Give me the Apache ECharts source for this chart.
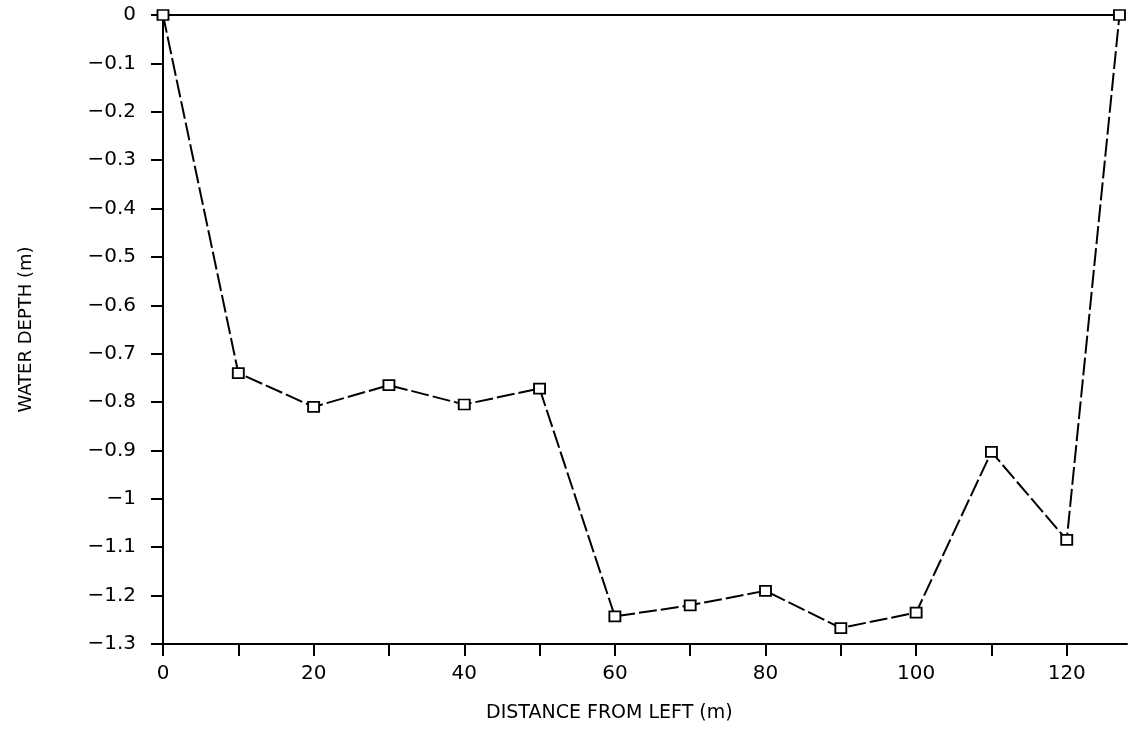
<!DOCTYPE html>
<html>
<head>
<meta charset="utf-8">
<script src="https://cdn.jsdelivr.net/npm/echarts@6/dist/echarts.min.js"></script>
<style>
html,body{margin:0;padding:0;background:#fff;}
#chart{width:1134px;height:733px;}
</style>
</head>
<body>
<div id="chart"></div>
<script>
// Data
var distance = [0, 10, 20, 30, 40, 50, 60, 70, 80, 90, 100, 110, 120, 127];
var depth = [0, -0.74, -0.81, -0.765, -0.805, -0.772, -1.243, -1.22, -1.19, -1.267, -1.235, -0.903, -1.085, 0];
var surfaceX = [0, 127];
var surfaceY = [0, 0];
var xTicks = [0, 10, 20, 30, 40, 50, 60, 70, 80, 90, 100, 110, 120];
var xTickLabels = [0, 20, 40, 60, 80, 100, 120];
var yTicks = [0, -0.1, -0.2, -0.3, -0.4, -0.5, -0.6, -0.7, -0.8, -0.9, -1, -1.1, -1.2, -1.3];
var xTitle = 'DISTANCE FROM LEFT (m)';
var yTitle = 'WATER DEPTH (m)';

var profile = distance.map(function (d, i) { return [d, depth[i]]; });
var surface = surfaceX.map(function (d, i) { return [d, surfaceY[i]]; });

var chart = echarts.init(document.getElementById('chart'));
var font = 'DejaVu Sans';
chart.setOption({
  backgroundColor: '#ffffff',
  animation: false,
  grid: { left: 163, right: 7, top: 15, bottom: 89, containLabel: false },
  graphic: [{
    type: 'text',
    left: 612 - 126,
    top: 704,
    style: { text: xTitle, font: '19px "DejaVu Sans"', fill: '#000' }
  }],
  xAxis: {
    type: 'value',
    min: 0,
    max: 128,
    axisLine: { show: true, onZero: false, lineStyle: { color: '#000', width: 2 } },
    axisTick: { show: true, length: 12, inside: false, customValues: xTicks, lineStyle: { color: '#000', width: 2 } },
    axisLabel: { customValues: xTickLabels, margin: 20, fontFamily: font, fontSize: 20, color: '#000' },
    splitLine: { show: false }
  },
  yAxis: {
    type: 'value',
    min: -1.3,
    max: 0,
    name: yTitle,
    nameLocation: 'middle',
    nameGap: 128,
    nameTextStyle: { fontFamily: font, fontSize: 18, color: '#000' },
    axisLine: { show: true, onZero: false, lineStyle: { color: '#000', width: 2 } },
    axisTick: { show: true, length: 12, customValues: yTicks, lineStyle: { color: '#000', width: 2 } },
    axisLabel: {
      customValues: yTicks,
      margin: 27,
      fontFamily: font,
      fontSize: 20,
      color: '#000',
      formatter: function (v) { return String(Math.round(v * 10) / 10).replace('-', '\u2212'); }
    },
    splitLine: { show: false }
  },
  series: [
    {
      type: 'line',
      data: surface,
      symbol: 'none',
      lineStyle: { color: '#000', width: 2 },
      z: 1
    },
    {
      type: 'line',
      data: profile,
      symbol: 'rect',
      symbolSize: [11, 10],
      itemStyle: { color: '#fff', borderColor: '#000', borderWidth: 1.8 },
      lineStyle: { color: '#000', width: 2, type: [18, 4] },
      z: 3
    }
  ]
});
</script>
</body>
</html>
